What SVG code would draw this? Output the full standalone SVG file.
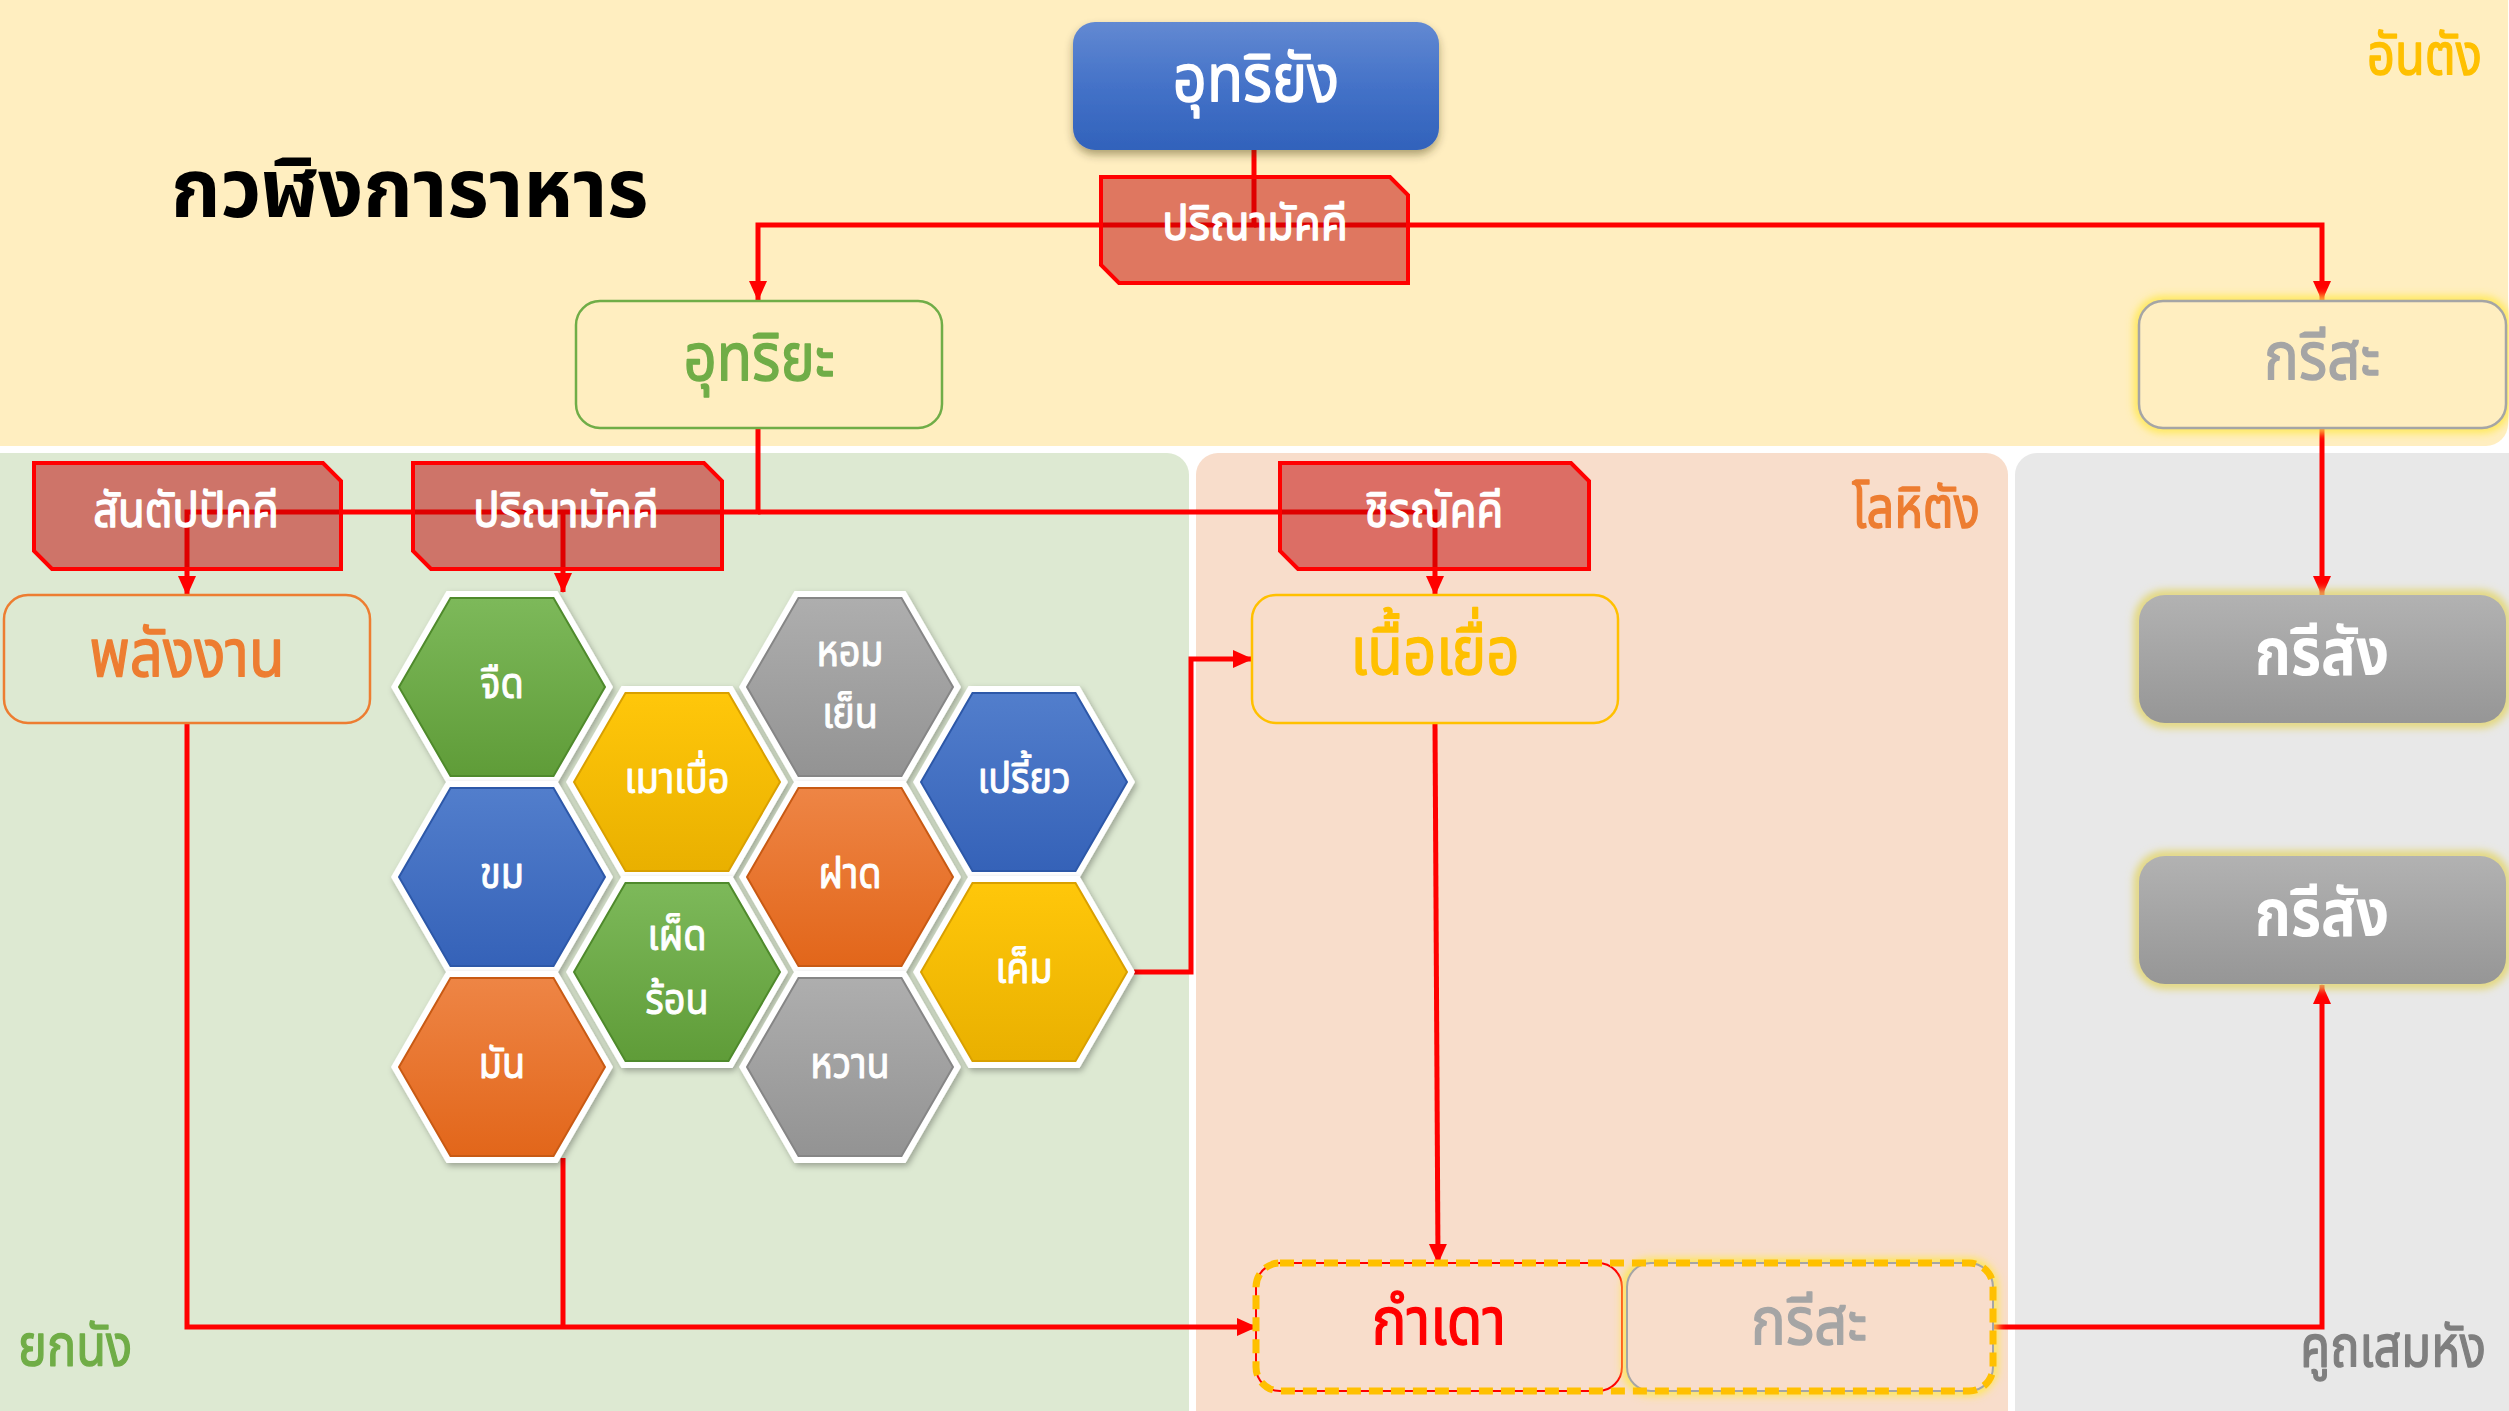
<svg xmlns="http://www.w3.org/2000/svg" width="2509" height="1411" viewBox="0 0 2509 1411">
<defs>
<style>
text{font-family:"Noto Sans Thai","Noto Sans Thai UI","Noto Sans","DejaVu Sans",sans-serif;stroke-width:1.4px;stroke-linejoin:round;}
.conn{fill:none;stroke:#FF0000;stroke-width:5;stroke-linejoin:miter;}
.arr{marker-end:url(#arrow);}
.tag{fill:#C00000;fill-opacity:0.5;stroke:#FF0000;stroke-width:4;}
.tagt{fill:#FFFFFF;stroke:#FFFFFF;font-size:49px;text-anchor:middle;}
.boxt{font-size:66px;text-anchor:middle;}
.hexW{fill:#FFFFFF;}
.hext{fill:#FFFFFF;stroke:#FFFFFF;stroke-width:1px;font-size:42px;text-anchor:middle;}
.corner{font-size:58px;}
.white{fill:#FFFFFF;stroke:#FFFFFF;}
.green{fill:#70AD47;stroke:#70AD47;}
.orange{fill:#ED7D31;stroke:#ED7D31;}
.gold{fill:#FFC000;stroke:#FFC000;}
.grey{fill:#A5A5A5;stroke:#A5A5A5;}
.dgrey{fill:#7F7F7F;stroke:#7F7F7F;}
.red{fill:#FF0000;stroke:#FF0000;}
.bold{font-weight:bold;stroke-width:0;}
</style>
<marker id="arrow" markerUnits="userSpaceOnUse" markerWidth="20" markerHeight="20" viewBox="0 0 20 20" refX="19" refY="10" orient="auto">
<path d="M0,1 L20,10 L0,19 Z" fill="#FF0000"/>
</marker>
<linearGradient id="gBlueBox" x1="0" y1="0" x2="0" y2="1"><stop offset="0" stop-color="#6289D2"/><stop offset="0.5" stop-color="#4472C8"/><stop offset="1" stop-color="#3162BB"/></linearGradient>
<linearGradient id="gGreyBox" x1="0" y1="0" x2="0" y2="1"><stop offset="0" stop-color="#B2B2B2"/><stop offset="1" stop-color="#969696"/></linearGradient>
<linearGradient id="gGreen" x1="0" y1="0" x2="0" y2="1"><stop offset="0" stop-color="#7DB95A"/><stop offset="1" stop-color="#5F9C38"/></linearGradient>
<linearGradient id="gYellow" x1="0" y1="0" x2="0" y2="1"><stop offset="0" stop-color="#FFC70A"/><stop offset="1" stop-color="#E9B000"/></linearGradient>
<linearGradient id="gBlue" x1="0" y1="0" x2="0" y2="1"><stop offset="0" stop-color="#527ECC"/><stop offset="1" stop-color="#3562B8"/></linearGradient>
<linearGradient id="gOrange" x1="0" y1="0" x2="0" y2="1"><stop offset="0" stop-color="#EE8545"/><stop offset="1" stop-color="#E2661A"/></linearGradient>
<linearGradient id="gGrey" x1="0" y1="0" x2="0" y2="1"><stop offset="0" stop-color="#AEAEAE"/><stop offset="1" stop-color="#939393"/></linearGradient>
<filter id="shadow" x="-20%" y="-20%" width="140%" height="150%"><feDropShadow dx="0" dy="5" stdDeviation="4" flood-color="#3A3000" flood-opacity="0.4"/></filter>
<filter id="hexShadow" x="-20%" y="-20%" width="140%" height="140%"><feDropShadow dx="2" dy="3" stdDeviation="3" flood-color="#000000" flood-opacity="0.3"/></filter>
<filter id="glow" x="-10%" y="-20%" width="120%" height="140%"><feGaussianBlur stdDeviation="4"/></filter>
<polygon id="hexOuter" points="-111,0 -55.5,-96 55.5,-96 111,0 55.5,96 -55.5,96"/>
<polygon id="hexInner" points="-103,0 -51.5,-89 51.5,-89 103,0 51.5,89 -51.5,89"/>
</defs>

<!-- panels -->
<g id="panels">
<rect id="panel-antang" x="-30" y="-30" width="2538" height="476" rx="22" fill="#FFEEC0"/>
<rect id="panel-yakanang" x="-30" y="453" width="1219" height="990" rx="22" fill="#DDE9D2"/>
<rect id="panel-lohitang" x="1196" y="453" width="812" height="990" rx="22" fill="#F8DDCB"/>
<rect id="panel-kutha" x="2015" y="453" width="530" height="990" rx="22" fill="#E8E8E8"/>
<text transform="translate(171,217) scale(0.97,1)" font-size="82" font-weight="bold" fill="#000000">กวฬิงการาหาร</text>
<text class="corner gold" transform="translate(2482,74) scale(0.84,1)" text-anchor="end">อันตัง</text>
<text class="corner orange" transform="translate(1980,527) scale(0.84,1)" text-anchor="end">โลหิตัง</text>
<text class="corner green" transform="translate(18,1365) scale(0.84,1)">ยกนัง</text>
<text class="corner dgrey" transform="translate(2486,1366) scale(0.84,1)" text-anchor="end">คูถเสมหัง</text>
</g>

<!-- connectors -->
<g id="connectors">
<path class="conn arr" d="M1254,150 V225 H758 V300"/>
<path class="conn arr" d="M1254,225 H2322 V300"/>
<path class="conn arr" d="M758,428 V512 H187 V595"/>
<path class="conn arr" d="M758,512 H1435 V595"/>
<path class="conn arr" d="M563,512 V592"/>
<path class="conn arr" d="M187,723 V1327 H1256"/>
<path class="conn" d="M563,1158 V1327"/>
<path class="conn arr" d="M1134,972 H1191 V659 H1252"/>
<path class="conn arr" d="M1435,723 L1438,1263"/>
<path class="conn arr" d="M1993,1327 H2322 V985"/>
<path class="conn arr" d="M2322,428 V595"/>
</g>

<!-- nodes -->
<g id="node-utariyang">
<rect x="1073" y="22" width="366" height="128" rx="22" fill="url(#gBlueBox)" filter="url(#shadow)"/>
<text class="boxt white" transform="translate(1256,101) scale(0.9,1)" font-size="69">อุทริยัง</text>
</g>

<g id="tag-parinamakkhi-top">
<path class="tag" d="M1101,177 H1390 L1408,195 V283 H1119 L1101,265 Z"/>
<text class="tagt" transform="translate(1255,240) scale(0.89,1)">ปริณามัคคี</text>
</g>

<g id="node-utariya">
<rect x="576" y="301" width="366" height="127" rx="24" fill="none" stroke="#70AD47" stroke-width="2.5"/>
<text class="boxt green" transform="translate(759,380) scale(0.88,1)">อุทริยะ</text>
</g>

<g id="node-karisa-top">
<rect x="2139" y="301" width="367" height="127" rx="24" fill="none" stroke="#FFE84A" stroke-width="9" filter="url(#glow)"/>
<rect x="2139" y="301" width="367" height="127" rx="24" fill="#FFEEC0" stroke="#A5A5A5" stroke-width="2.5"/>
<text class="boxt grey" transform="translate(2322,379) scale(0.88,1)">กรีสะ</text>
</g>

<g id="tag-santappakkhi">
<path class="tag" d="M34,463 H323 L341,481 V569 H52 L34,551 Z"/>
<text class="tagt" transform="translate(186,527) scale(0.89,1)">สันตัปปัคคี</text>
</g>

<g id="tag-parinamakkhi">
<path class="tag" d="M413,463 H704 L722,481 V569 H431 L413,551 Z"/>
<text class="tagt" transform="translate(566,527) scale(0.89,1)">ปริณามัคคี</text>
</g>

<g id="tag-chiranakkhi">
<path class="tag" d="M1280,463 H1571 L1589,481 V569 H1298 L1280,551 Z"/>
<text class="tagt" transform="translate(1434,527) scale(0.89,1)">ชิรณัคคี</text>
</g>

<g id="node-palangngan">
<rect x="4" y="595" width="366" height="128" rx="24" fill="none" stroke="#ED7D31" stroke-width="2.5"/>
<text class="boxt orange" transform="translate(187,676) scale(0.88,1)">พลังงาน</text>
</g>

<g id="node-nueayuea">
<rect x="1252" y="595" width="366" height="128" rx="24" fill="none" stroke="#FFC000" stroke-width="2.5"/>
<text class="boxt gold" transform="translate(1435,674) scale(0.88,1)">เนื้อเยื่อ</text>
</g>

<g id="node-karisang-1">
<rect x="2139" y="595" width="367" height="128" rx="26" fill="none" stroke="#E2D468" stroke-width="9" filter="url(#glow)"/>
<rect x="2139" y="595" width="367" height="128" rx="26" fill="url(#gGreyBox)"/>
<text class="boxt white bold" transform="translate(2322,675) scale(0.88,1)" font-size="62">กรีสัง</text>
</g>

<g id="node-karisang-2">
<rect x="2139" y="856" width="367" height="128" rx="26" fill="none" stroke="#E2D468" stroke-width="9" filter="url(#glow)"/>
<rect x="2139" y="856" width="367" height="128" rx="26" fill="url(#gGreyBox)"/>
<text class="boxt white bold" transform="translate(2322,936) scale(0.88,1)" font-size="62">กรีสัง</text>
</g>

<g id="node-kamdao">
<rect x="1256" y="1263" width="366" height="128" rx="24" fill="none" stroke="#FF0000" stroke-width="2"/>
<text class="boxt red" transform="translate(1439,1344) scale(0.88,1)">กำเดา</text>
</g>

<g id="node-karisa-bottom">
<rect x="1627" y="1263" width="366" height="128" rx="24" fill="none" stroke="#FFE84A" stroke-width="9" filter="url(#glow)"/>
<rect x="1627" y="1263" width="366" height="128" rx="24" fill="#F8DDCB" stroke="#A5A5A5" stroke-width="2"/>
<text class="boxt grey" transform="translate(1809,1344) scale(0.88,1)">กรีสะ</text>
</g>

<g id="group-outline">
<rect x="1256" y="1263" width="737" height="128" rx="24" fill="none" stroke="#FFC000" stroke-width="7" stroke-dasharray="14 8"/>
</g>

<!-- hexagons -->
<g id="hex-chuet" transform="translate(502,687)"><use href="#hexOuter" class="hexW" filter="url(#hexShadow)"/><use href="#hexInner" fill="url(#gGreen)" stroke="#4F8A2C" stroke-width="2"/><text class="hext" transform="translate(0,11) scale(0.9,1)">จืด</text></g>
<g id="hex-maobuea" transform="translate(677,782)"><use href="#hexOuter" class="hexW" filter="url(#hexShadow)"/><use href="#hexInner" fill="url(#gYellow)" stroke="#D9A000" stroke-width="2"/><text class="hext" transform="translate(0,11) scale(0.9,1)">เมาเบื่อ</text></g>
<g id="hex-homyen" transform="translate(850,687)"><use href="#hexOuter" class="hexW" filter="url(#hexShadow)"/><use href="#hexInner" fill="url(#gGrey)" stroke="#868686" stroke-width="2"/><text class="hext" transform="translate(0,-21) scale(0.9,1)">หอม</text><text class="hext" transform="translate(0,41) scale(0.9,1)">เย็น</text></g>
<g id="hex-priao" transform="translate(1024,782)"><use href="#hexOuter" class="hexW" filter="url(#hexShadow)"/><use href="#hexInner" fill="url(#gBlue)" stroke="#2D58A8" stroke-width="2"/><text class="hext" transform="translate(0,11) scale(0.9,1)">เปรี้ยว</text></g>
<g id="hex-khom" transform="translate(502,877)"><use href="#hexOuter" class="hexW" filter="url(#hexShadow)"/><use href="#hexInner" fill="url(#gBlue)" stroke="#2D58A8" stroke-width="2"/><text class="hext" transform="translate(0,11) scale(0.9,1)">ขม</text></g>
<g id="hex-phetron" transform="translate(677,972)"><use href="#hexOuter" class="hexW" filter="url(#hexShadow)"/><use href="#hexInner" fill="url(#gGreen)" stroke="#4F8A2C" stroke-width="2"/><text class="hext" transform="translate(0,-22) scale(0.9,1)">เผ็ด</text><text class="hext" transform="translate(0,42) scale(0.9,1)">ร้อน</text></g>
<g id="hex-fat" transform="translate(850,877)"><use href="#hexOuter" class="hexW" filter="url(#hexShadow)"/><use href="#hexInner" fill="url(#gOrange)" stroke="#C85A14" stroke-width="2"/><text class="hext" transform="translate(0,11) scale(0.9,1)">ฝาด</text></g>
<g id="hex-khem" transform="translate(1024,972)"><use href="#hexOuter" class="hexW" filter="url(#hexShadow)"/><use href="#hexInner" fill="url(#gYellow)" stroke="#D9A000" stroke-width="2"/><text class="hext" transform="translate(0,11) scale(0.9,1)">เค็ม</text></g>
<g id="hex-man" transform="translate(502,1067)"><use href="#hexOuter" class="hexW" filter="url(#hexShadow)"/><use href="#hexInner" fill="url(#gOrange)" stroke="#C85A14" stroke-width="2"/><text class="hext" transform="translate(0,11) scale(0.9,1)">มัน</text></g>
<g id="hex-wan" transform="translate(850,1067)"><use href="#hexOuter" class="hexW" filter="url(#hexShadow)"/><use href="#hexInner" fill="url(#gGrey)" stroke="#868686" stroke-width="2"/><text class="hext" transform="translate(0,11) scale(0.9,1)">หวาน</text></g>
</svg>
